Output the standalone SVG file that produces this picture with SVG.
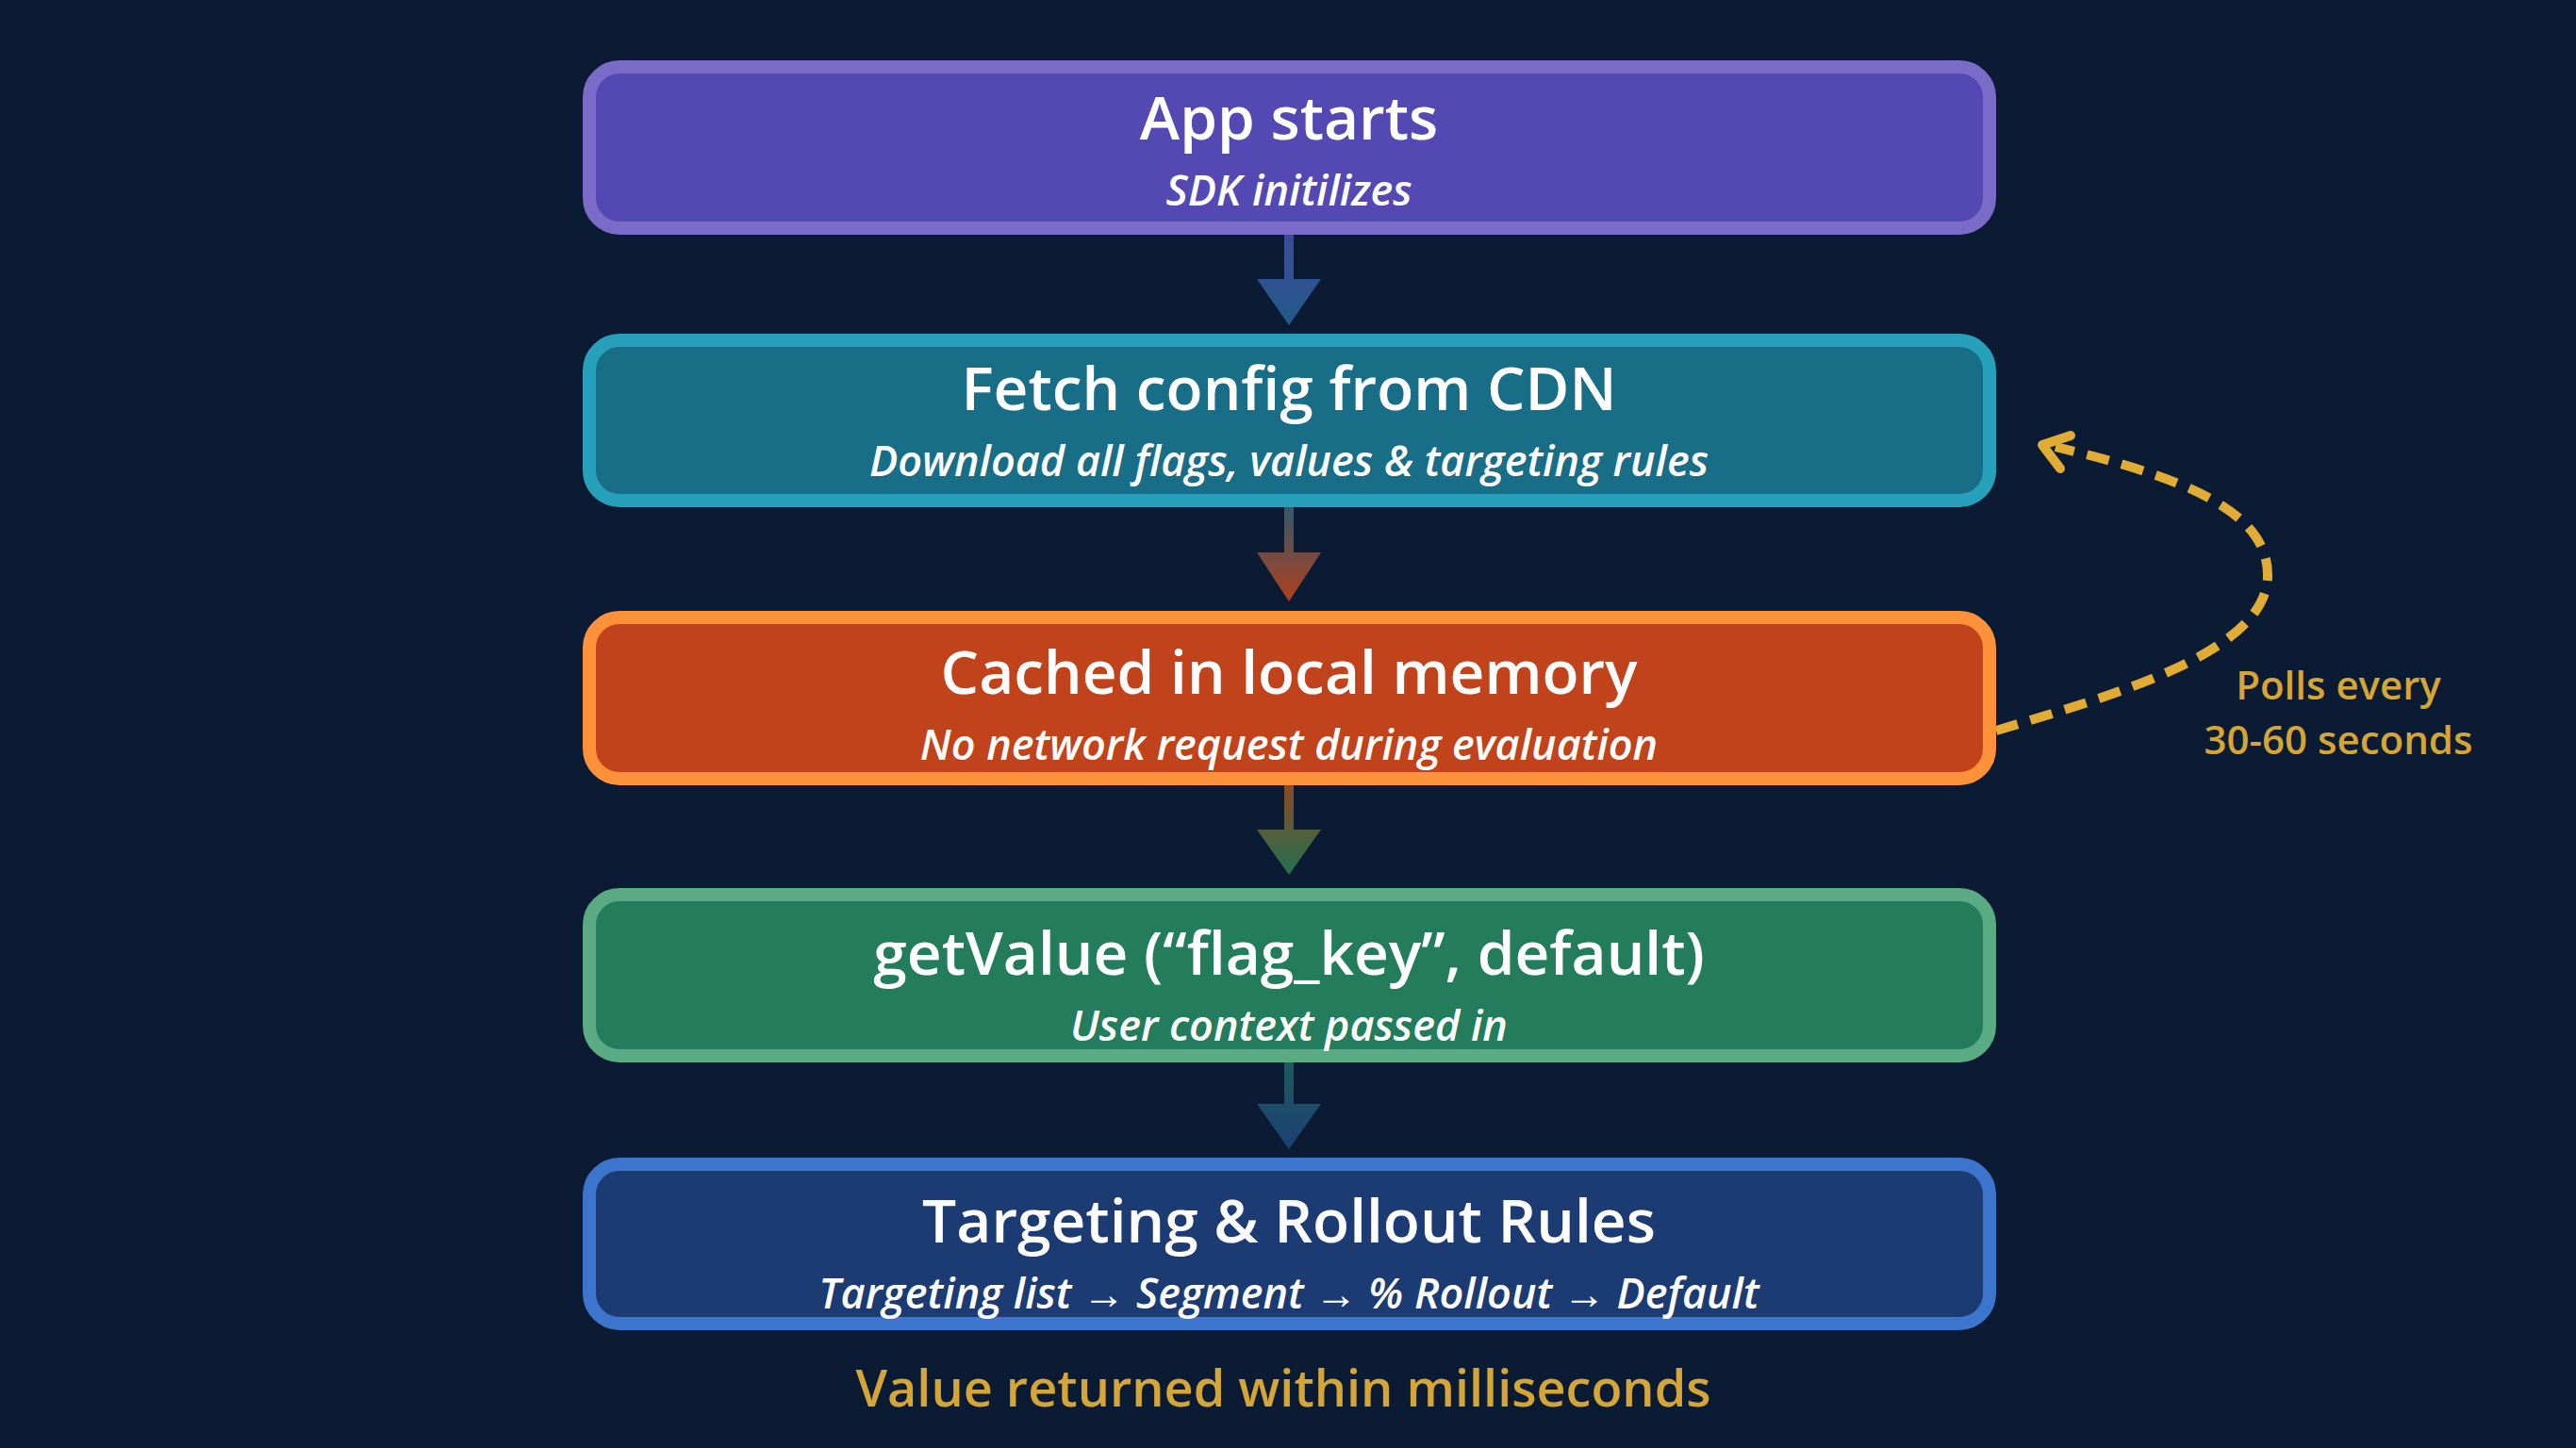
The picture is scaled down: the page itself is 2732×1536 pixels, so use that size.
<svg xmlns="http://www.w3.org/2000/svg" width="2732" height="1536" viewBox="0 0 2732 1536">
<style>
.box{stroke-width:14}
.t{font-family:"Open Sans","Noto Sans",sans-serif;font-weight:600;font-size:64px;fill:#fff;text-anchor:middle}
.s{font-family:"Open Sans","Noto Sans",sans-serif;font-weight:600;font-style:italic;font-size:45px;fill:#fff;text-anchor:middle}
.y{font-family:"Open Sans","Noto Sans",sans-serif;font-weight:600;fill:#d4a537;text-anchor:middle}
</style>
<defs>
<linearGradient id="g1" x1="0" y1="0" x2="0" y2="1"><stop offset="0" stop-color="#3d4a98"/><stop offset="1" stop-color="#225a8a"/></linearGradient>
<linearGradient id="g2" x1="0" y1="0" x2="0" y2="1"><stop offset="0" stop-color="#34586a"/><stop offset="1" stop-color="#b0401c"/></linearGradient>
<linearGradient id="g3" x1="0" y1="0" x2="0" y2="1"><stop offset="0" stop-color="#8a4a26"/><stop offset="1" stop-color="#237050"/></linearGradient>
<linearGradient id="g4" x1="0" y1="0" x2="0" y2="1"><stop offset="0" stop-color="#1f5a5a"/><stop offset="1" stop-color="#1c3f78"/></linearGradient>
</defs>
<rect width="2732" height="1536" fill="#0b1b33"/>
<g id="connectors">
<path d="M1362 249V296H1333L1367 345L1401 296H1372V249Z" fill="url(#g1)"/>
<path d="M1362 538V586H1333L1367 638L1401 586H1372V538Z" fill="url(#g2)"/>
<path d="M1362 833V880H1333L1367 928L1401 880H1372V833Z" fill="url(#g3)"/>
<path d="M1362 1127V1171H1333L1367 1219L1401 1171H1372V1127Z" fill="url(#g4)"/>
<path d="M2117 775C2250 735 2405 690 2405 610C2405 540 2310 505 2180 474" fill="none" stroke="#e0ac35" stroke-width="10" stroke-dasharray="24 14"/>
<path d="M2185 497L2166 472L2196 462" fill="none" stroke="#e0ac35" stroke-width="10" stroke-linecap="round" stroke-linejoin="round"/>
</g>
<g id="n1"><rect class="box" x="625" y="71" width="1485" height="171" rx="32" fill="#5449b3" stroke="#7a6bc8"/>
<text class="t" x="1367" y="148">App starts</text><text class="s" x="1367" y="218">SDK initilizes</text></g>
<g id="n2"><rect class="box" x="625" y="361" width="1485" height="170" rx="32" fill="#186e87" stroke="#27a0bb"/>
<text class="t" x="1367" y="435">Fetch config from CDN</text><text class="s" x="1367" y="505">Download all flags, values &amp; targeting rules</text></g>
<g id="n3"><rect class="box" x="625" y="655" width="1485" height="171" rx="32" fill="#c0431b" stroke="#fd923a"/>
<text class="t" x="1367" y="736">Cached in local memory</text><text class="s" x="1367" y="806">No network request during evaluation</text></g>
<g id="n4"><rect class="box" x="625" y="949" width="1485" height="171" rx="32" fill="#237d5c" stroke="#5aaa84"/>
<text class="t" x="1367" y="1034">getValue (“flag_key”, default)</text><text class="s" x="1367" y="1104">User context passed in</text></g>
<g id="n5"><rect class="box" x="625" y="1235" width="1485" height="169" rx="32" fill="#1c3b72" stroke="#3d74cd"/>
<text class="t" x="1367" y="1318">Targeting &amp; Rollout Rules</text><text class="s" x="1367" y="1388">Targeting list → Segment → % Rollout → Default</text></g>
<text class="y" x="2480" y="742" font-size="42">Polls every</text>
<text class="y" x="2480" y="800" font-size="42">30-60 seconds</text>
<text class="y" x="1361" y="1492" font-size="54">Value returned within milliseconds</text>
</svg>
